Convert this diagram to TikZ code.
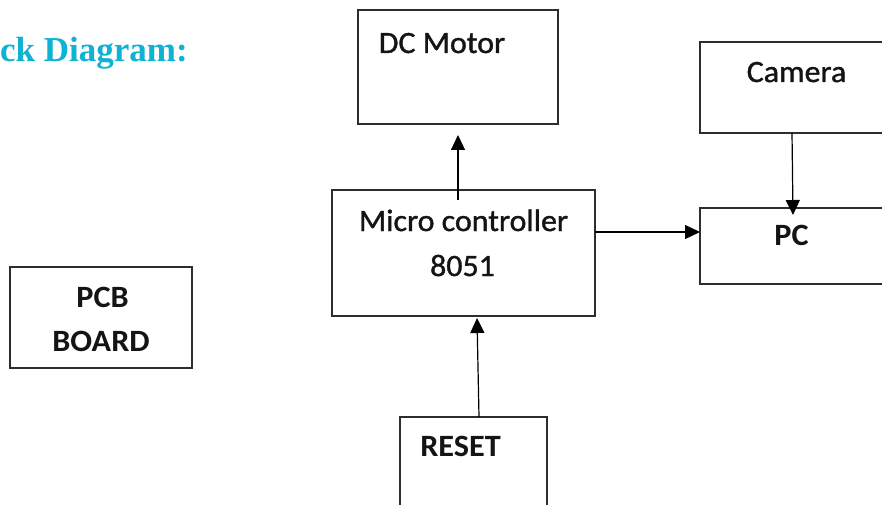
\documentclass[tikz,border=0pt]{standalone}
\usepackage{fontspec}
\setmainfont{Carlito}[FakeStretch=1.04]
\newfontfamily\medfont{Carlito}[FakeStretch=1.03,FakeBold=1.2]
\newfontfamily\titlefont{Liberation Serif}
\usetikzlibrary{arrows.meta}
\definecolor{titlecyan}{RGB}{14,178,210}
\definecolor{boxline}{RGB}{45,45,45}
\definecolor{txt}{RGB}{20,20,20}
\tikzset{
  blockbox/.style={draw=boxline, line width=1.2pt, rectangle, inner sep=0pt, outer sep=0pt},
  lbl/.style={anchor=base, inner sep=0pt, text=txt, font=\medfont\fontsize{31}{37}\selectfont},
  lblb/.style={lbl, font=\fontsize{31}{37}\selectfont\bfseries},
  arr/.style={draw=black, line width=1.2pt, -{Triangle[length=15pt,width=14pt]}},
}
\begin{document}
\begin{tikzpicture}[x=1pt,y=-1pt]
\useasboundingbox (0,0) rectangle (882,505);
\clip (0,0) rectangle (882,505);
\fill[white] (0,0) rectangle (882,505);
% title
\node[anchor=base west, inner sep=0pt, text=titlecyan, font=\titlefont\fontsize{35}{40}\selectfont\bfseries] (title) at (0,62) {ck Diagram:};
% boxes
\node[blockbox, minimum width=200pt, minimum height=114pt] (dc) at (458,67) {};
\node[blockbox, minimum width=190pt, minimum height=91pt] (cam) at (795,87.5) {};
\node[blockbox, minimum width=190pt, minimum height=76pt] (pc) at (795,246) {};
\node[blockbox, minimum width=263pt, minimum height=126pt] (mc) at (463.5,253) {};
\node[blockbox, minimum width=182pt, minimum height=101pt] (pcb) at (101,317.5) {};
\node[blockbox, minimum width=147pt, minimum height=98pt] (reset) at (473.5,466) {};
% labels
\node[lbl] (dct) at (442,53) {DC Motor};
\node[lbl] (camt) at (796.5,82) {Camera};
\node[lblb] (pct) at (791.5,245) {PC};
\node[lbl] (mct1) at (463.5,231) {Micro controller};
\node[lbl] (mct2) at (462.5,276) {8051};
\node[lblb] (pcbt1) at (102.5,307) {PCB};
\node[lblb] (pcbt2) at (101,351) {BOARD};
\node[lblb] (resett) at (460.5,456) {RESET};
% connectors
\draw[arr] ([yshift=-10pt]mc.north -| dc.south) -- ([yshift=-11pt]dc.south);
\draw[arr] ([xshift=5.5pt]reset.north) -- ([xshift=13.5pt,yshift=-2pt]mc.south);
\draw[arr] ([yshift=21pt]mc.east) -- ([yshift=21pt]mc.east -| pc.west);
\draw[arr] ([xshift=-3pt]cam.south) -- ([xshift=-2pt,yshift=-7pt]pc.north);
\end{tikzpicture}
\end{document}
